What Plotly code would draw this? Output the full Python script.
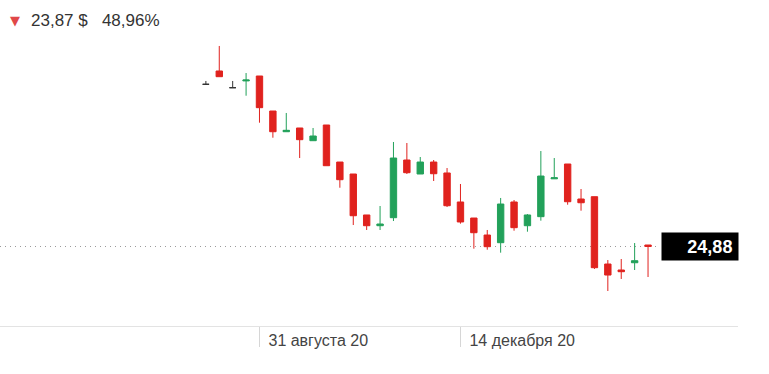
import plotly.graph_objects as go
import pandas as pd

# Weekly candles, Aug 2020 - Mar 2021
week_start = "2020-08-03"
n_weeks = 34
dates = pd.date_range(week_start, periods=n_weeks, freq="7D")

opens = [48.75, 50.71, 48.25, 49.25, 49.97, 44.82, 41.77, 42.32, 40.45, 42.76,
         37.31, 35.55, 29.52, 27.94, 29.12, 37.61, 35.55, 37.31, 35.70, 31.43,
         29.07, 26.57, 25.44, 31.43, 27.94, 29.27, 34.84, 37.02, 31.87, 32.21,
         22.30, 21.42, 22.49, 25.10]
highs = [49.24, 54.39, 49.24, 50.41, 49.97, 44.82, 44.53, 42.32, 42.32, 42.76,
         37.31, 35.55, 29.52, 30.84, 40.26, 40.11, 38.05, 37.61, 36.43, 34.08,
         29.07, 27.31, 32.02, 31.72, 29.66, 38.93, 37.90, 37.02, 33.34, 32.21,
         22.89, 23.04, 25.39, 25.10]
lows = [48.75, 49.87, 48.25, 47.07, 43.10, 40.89, 41.77, 37.90, 40.45, 36.77,
        33.53, 28.04, 27.31, 27.31, 28.63, 35.55, 35.55, 34.52, 30.69, 28.24,
        24.56, 24.41, 23.97, 27.20, 27.06, 28.68, 34.84, 31.03, 30.15, 21.57,
        18.33, 20.10, 21.42, 20.39]
closes = [48.75, 49.87, 48.25, 49.38, 45.31, 41.77, 41.98, 40.60, 41.14, 36.77,
          34.71, 29.41, 27.94, 28.19, 37.90, 35.74, 37.31, 35.59, 30.88, 28.49,
          26.91, 24.85, 31.13, 27.65, 29.52, 35.25, 34.99, 31.47, 31.32, 21.76,
          20.68, 21.17, 22.79, 24.88]

change_text = "23,87 $"
change_pct = "48,96%"
last_label = "24,88"
tick_vals = ["2020-08-31", "2020-12-14"]
tick_text = ["31 августа 20", "14 декабря 20"]

RED = "#E0221E"
GREEN = "#22A15A"
FLAT = "#333333"

flat = [o == c for o, c in zip(opens, closes)]
idx_move = [i for i in range(n_weeks) if not flat[i]]
idx_flat = [i for i in range(n_weeks) if flat[i]]

def pick(arr, idx):
    return [arr[i] for i in idx]

fig = go.Figure()
fig.add_trace(go.Candlestick(
    x=pick(list(dates), idx_move),
    open=pick(opens, idx_move), high=pick(highs, idx_move),
    low=pick(lows, idx_move), close=pick(closes, idx_move),
    increasing=dict(line=dict(color=GREEN, width=1), fillcolor=GREEN),
    decreasing=dict(line=dict(color=RED, width=1), fillcolor=RED),
    whiskerwidth=0, hoverinfo="skip", showlegend=False,
))
fig.add_trace(go.Candlestick(
    x=pick(list(dates), idx_flat),
    open=pick(opens, idx_flat), high=pick(highs, idx_flat),
    low=pick(lows, idx_flat), close=pick(closes, idx_flat),
    increasing=dict(line=dict(color=FLAT, width=1), fillcolor=FLAT),
    decreasing=dict(line=dict(color=FLAT, width=1), fillcolor=FLAT),
    whiskerwidth=0, hoverinfo="skip", showlegend=False,
))

last_close = closes[-1]

fig.add_shape(type="line", xref="x domain", yref="y",
              x0=0, x1=0.89, y0=last_close, y1=last_close,
              line=dict(color="#9a9a9a", width=1, dash="1px,4px"), layer="below")

fig.add_annotation(xref="paper", yref="y", x=1.001, y=last_close,
                   xanchor="right", yanchor="middle",
                   text="<b>" + last_label + "</b>&#8201;", showarrow=False,
                   font=dict(family="Liberation Sans, Arial", size=18, color="white"),
                   bgcolor="black", width=72, height=23, borderpad=2, align="right")

fig.add_annotation(xref="paper", yref="paper", x=8 / 738, y=1 + (40 - 21) / 286,
                   xanchor="left", yanchor="middle", text="▼", showarrow=False,
                   font=dict(family="DejaVu Sans", size=13, color="#E04848"))
fig.add_annotation(xref="paper", yref="paper", x=29 / 738, y=1 + (40 - 21) / 286,
                   xanchor="left", yanchor="middle",
                   text=change_text + "&nbsp;&nbsp;&nbsp;" + change_pct, showarrow=False,
                   font=dict(family="Liberation Sans, Arial", size=17, color="#333333"))

fig.update_layout(
    width=769, height=374,
    margin=dict(l=0, r=31, t=40, b=48),
    paper_bgcolor="white", plot_bgcolor="white",
    boxgap=0.32,
    xaxis=dict(
        type="date",
        range=["2020-04-17 10:30", "2021-05-08"],
        rangeslider=dict(visible=False),
        showgrid=False, zeroline=False,
        showline=True, linecolor="#e3e3e3", linewidth=1,
        ticks="outside", ticklen=20, tickcolor="#d6d6d6", tickwidth=1,
        tickvals=tick_vals, ticktext=tick_text,
        ticklabelposition="outside right", ticklabelshift=8,
        tickfont=dict(family="Liberation Sans, Arial", size=16, color="#444444"),
    ),
    yaxis=dict(range=[13.18, 55.27], visible=False, fixedrange=True),
)

fig.write_html("out.html", post_script="document.body.style.margin='0';",
               config={"displayModeBar": False})
